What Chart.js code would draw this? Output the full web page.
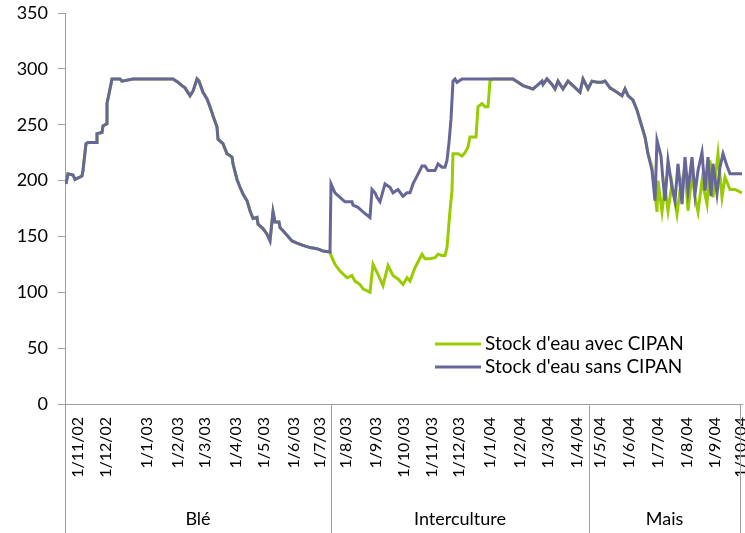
<!DOCTYPE html>
<html>
<head>
<meta charset="utf-8">
<script src="https://cdn.jsdelivr.net/npm/chart.js@4.4.1/dist/chart.umd.min.js"></script>
<style>
  html, body { margin: 0; padding: 0; background: #fff; }
  #wrap { width: 745px; height: 533px; position: relative; }
</style>
</head>
<body>
<div id="wrap"><canvas id="stockChart"></canvas></div>
<script>
// ------------------------------------------------------------
// Stock d'eau du sol (mm) — Blé / Interculture / Mais
// x = jour de la série (index d'observation), y = stock en mm
// ------------------------------------------------------------

// Blé : les deux courbes sont confondues
const bleCommun = [
  [1,197],[3,206],[8,205],[10,201],[17,204],[18,209],[21,233],[23,234],[32,234],[32,242],
  [37,243],[38,249],[42,251],[42,269],[45,282],[47,291],[55,291],[57,289],[68,291],[108,291],
  [113,288],[117,285],[120,283],[125,276],[128,280],[132,291],[134,289],[138,279],[142,273],
  [145,266],[148,258],[152,248],[153,237],[158,233],[162,224],[167,221],[168,215],[172,201],
  [175,194],[178,188],[182,182],[185,173],[188,166],[192,167],[193,161],[198,157],[202,152],
  [205,146],[208,172],[210,163],[214,163],[215,158],[218,155],[222,151],[227,146],[232,144],
  [238,142],[245,140],[252,139],[258,137],[265,136]
];

// Interculture
const interSans = [
  [266,197],[270,189],[275,185],[280,181],[287,181],[288,178],[293,176],[298,172],[305,167],
  [307,192],[310,189],[312,185],[315,181],[320,197],[325,194],[328,189],[333,192],[338,186],
  [342,189],[345,189],[348,197],[352,204],[357,213],[360,213],[363,209],[370,209],[373,215],
  [377,212],[380,212],[382,218],[384,234],[386,255],[388,289],[390,291],[392,288],[397,291]
];
const interAvec = [
  [266,133],[270,125],[275,119],[282,113],[287,115],[290,110],[295,107],[298,103],[305,100],
  [308,125],[313,116],[318,106],[323,124],[328,115],[333,112],[338,107],[342,113],[345,110],
  [350,122],[357,134],[360,130],[365,130],[370,131],[373,134],[377,133],[380,133],[382,140],
  [385,173],[387,191],[388,224],[393,224],[397,222],[400,225],[403,230],[405,239],[411,239],
  [413,266],[417,269],[420,266],[423,266],[425,289],[428,291]
];

// Fin d'interculture et début du maïs : courbes confondues
const plateauCommun = [
  [448,291],[453,288],[458,285],[468,282],[472,285],[477,289],[478,286],[482,291],[487,286],
  [490,282],[493,289],[498,282],[503,289],[508,285],[515,279],[518,291],[523,282],[527,289],
  [532,288],[537,288],[540,289],[545,283],[552,279],[557,276],[560,282],[563,276],[568,272],
  [572,263],[577,248],[580,239],[583,224]
];

// Maïs irrigué
const maisSans = [
  [587,209],[590,182],[592,236],[596,222],[598,200],[600,182],[603,218],[607,194],[610,182],
  [613,215],[617,179],[620,221],[623,191],[627,221],[630,188],[633,209],[637,225],[640,191],
  [643,221],[646,186],[648,215],[652,188],[655,212],[658,224],[662,213],[665,206],[677,206]
];
const maisAvec = [
  [587,212],[592,172],[593,200],[597,172],[600,194],[603,173],[607,197],[612,170],[615,191],
  [620,212],[623,173],[627,206],[630,185],[633,172],[637,200],[642,179],[645,218],[648,185],
  [653,224],[657,185],[660,203],[665,192],[670,192],[677,189]
];

// Axe des dates
const tickJours = [13,41,82,113,140,171,199,229,255,281,311,339,367,394,425,455,483,512,535,564,593,622,650,676];
const tickLabels = ['1/11/02','1/12/02','1/1/03','1/2/03','1/3/03','1/4/03','1/5/03','1/6/03','1/7/03',
  '1/8/03','1/9/03','1/10/03','1/11/03','1/12/03','1/1/04','1/2/04','1/3/04','1/4/04',
  '1/5/04','1/6/04','1/7/04','1/8/04','1/9/04','1/10/04'];

// Périodes culturales
const periodes = ['Blé', 'Interculture', 'Mais'];
const bornes = [0, 266, 524, 675];

const COLORS = {
  avec: '#99cc00',
  sans: '#666699',
  axis: '#a0a0a0',
  text: '#000000'
};
const FONT = "Lato, 'Open Sans', sans-serif";

const avecCipan = bleCommun.concat(interAvec, plateauCommun, maisAvec);
const sansCipan = bleCommun.concat(interSans, plateauCommun, maisSans);

// séparateurs de périodes, libellés et légende
const periodesPlugin = {
  id: 'periodes',
  afterDraw(chart) {
    var ctx = chart.ctx;
    var x = chart.scales.x;
    var area = chart.chartArea;
    ctx.save();
    ctx.strokeStyle = COLORS.axis;
    ctx.lineWidth = 1;
    bornes.forEach(function(b) {
      var px = Math.round(x.getPixelForValue(b)) + 0.5;
      ctx.beginPath();
      ctx.moveTo(px, area.bottom);
      ctx.lineTo(px, chart.height);
      ctx.stroke();
    });
    ctx.fillStyle = COLORS.text;
    ctx.font = '18px ' + FONT;
    ctx.textAlign = 'center';
    ctx.textBaseline = 'middle';
    periodes.forEach(function(p, i) {
      var mid = (x.getPixelForValue(bornes[i]) + x.getPixelForValue(bornes[i + 1])) / 2;
      ctx.fillText(p, mid, 519);
    });

    // légende
    ctx.font = '19px ' + FONT;
    ctx.textAlign = 'left';
    chart.data.datasets.forEach(function(ds, i) {
      var y = 344 + i * 23;
      ctx.strokeStyle = ds.borderColor;
      ctx.lineWidth = 3;
      ctx.beginPath();
      ctx.moveTo(435, y);
      ctx.lineTo(481, y);
      ctx.stroke();
      ctx.fillText(ds.label, 485, y);
    });
    ctx.restore();
  }
};

new Chart(document.getElementById('stockChart').getContext('2d'), {
  type: 'line',
  data: {
    datasets: [
      {
        label: "Stock d'eau avec CIPAN",
        data: avecCipan,
        borderColor: COLORS.avec,
        borderWidth: 3,
        pointRadius: 0,
        tension: 0,
        order: 1
      },
      {
        label: "Stock d'eau sans CIPAN",
        data: sansCipan,
        borderColor: COLORS.sans,
        borderWidth: 3,
        pointRadius: 0,
        tension: 0,
        order: 0
      }
    ]
  },
  options: {
    responsive: true,
    maintainAspectRatio: false,
    animation: false,
    devicePixelRatio: 1,
    layout: { padding: { top: 13, right: 3, left: 0, bottom: 0 } },
    plugins: {
      legend: { display: false },
      tooltip: { enabled: false }
    },
    scales: {
      x: {
        type: 'linear',
        min: 0,
        max: 677,
        border: { color: COLORS.axis },
        grid: { display: false },
        ticks: {
          autoSkip: false,
          minRotation: 90,
          maxRotation: 90,
          padding: 5,
          color: COLORS.text,
          font: { family: FONT, size: 16 },
          callback: function(v, i) { return tickLabels[i]; }
        },
        afterBuildTicks: function(axis) {
          axis.ticks = tickJours.map(function(j) { return { value: j }; });
        },
        afterFit: function(s) {
          s.height = 129;
          s.paddingLeft = 0;
          s.paddingRight = 0;
          s.paddingTop = 0;
          s.paddingBottom = 0;
        }
      },
      y: {
        min: 0,
        max: 350,
        border: { color: COLORS.axis },
        grid: { drawOnChartArea: false, drawTicks: true, tickLength: 7, color: COLORS.axis },
        ticks: {
          stepSize: 50,
          padding: 10,
          color: COLORS.text,
          font: { family: FONT, size: 18 }
        },
        afterFit: function(s) {
          s.width = 65;
          s.paddingTop = 0;
          s.paddingBottom = 0;
        }
      }
    }
  },
  plugins: [periodesPlugin]
});
</script>
</body>
</html>
